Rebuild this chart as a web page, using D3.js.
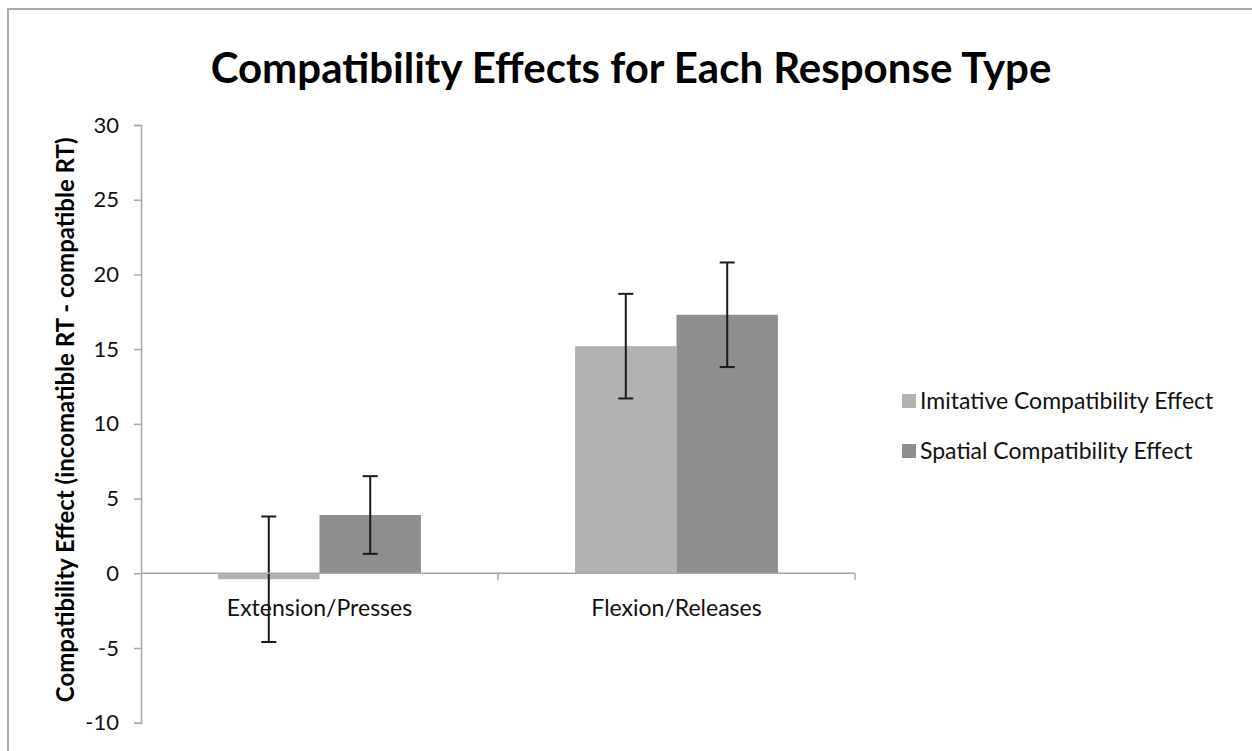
<!DOCTYPE html>
<html>
<head>
<meta charset="utf-8">
<script src="https://cdn.jsdelivr.net/npm/d3@7"></script>
<style>
  html, body { margin: 0; padding: 0; background: #fff; }
  svg { display: block; }
  text { font-family: Lato, "Open Sans", sans-serif; }
</style>
</head>
<body>
<svg id="chart" width="1252" height="751"></svg>
<script>
// Response types along the x axis
const categories = ["Extension/Presses", "Flexion/Releases"];
// Series names as shown in the legend
const seriesNames = ["Imitative Compatibility Effect", "Spatial Compatibility Effect"];
// Mean compatibility effect (ms) per response type
const imitativeValues = [-0.4, 15.2];
const spatialValues = [3.9, 17.3];
// Error bar half-widths (ms)
const imitativeErrors = [4.2, 3.5];
const spatialErrors = [2.6, 3.5];
// Y axis ticks
const yTicks = [-10, -5, 0, 5, 10, 15, 20, 25, 30];

const seriesColors = ["#b2b2b2", "#8e8e8e"];
const axisColor = "#a8a8a8";

const svg = d3.select("#chart");

// Outer chart frame
svg.append("rect")
  .attr("x", 8).attr("y", 9)
  .attr("width", 1300).attr("height", 800)
  .attr("fill", "none")
  .attr("stroke", "#aaaaaa")
  .attr("stroke-width", 2);

// Title
svg.append("text")
  .attr("x", 631).attr("y", 83)
  .attr("text-anchor", "middle")
  .attr("font-size", 42)
  .attr("font-weight", "bold")
  .attr("fill", "#000")
  .text("Compatibility Effects for Each Response Type");

const plot = { left: 141, right: 855, top: 125, bottom: 722.7 };

const y = d3.scaleLinear().domain([-10, 30]).range([plot.bottom, plot.top]);
const x0 = d3.scaleBand().domain(categories).range([plot.left, plot.right]).padding(0);
const x1 = d3.scaleBand().domain(seriesNames).range([0, x0.bandwidth()])
  .paddingInner(0).paddingOuter(0.76);

const rows = categories.map((c, i) => ({
  category: c,
  bars: [
    { series: seriesNames[0], value: imitativeValues[i], err: imitativeErrors[i], color: seriesColors[0] },
    { series: seriesNames[1], value: spatialValues[i], err: spatialErrors[i], color: seriesColors[1] }
  ]
}));

// Bars
const groups = svg.append("g").selectAll("g").data(rows).join("g")
  .attr("transform", d => `translate(${x0(d.category)},0)`);

groups.selectAll("rect").data(d => d.bars).join("rect")
  .attr("x", d => x1(d.series))
  .attr("width", x1.bandwidth())
  .attr("y", d => y(Math.max(0, d.value)))
  .attr("height", d => Math.abs(y(d.value) - y(0)))
  .attr("fill", d => d.color);

// Y axis
const yAxis = d3.axisLeft(y).tickValues(yTicks).tickFormat(d => String(d))
  .tickSize(7).tickPadding(15);
const gy = svg.append("g").attr("transform", `translate(${plot.left},0)`).call(yAxis);
gy.select(".domain").attr("stroke", axisColor).attr("stroke-width", 1.5);
gy.selectAll(".tick line").attr("stroke", axisColor).attr("stroke-width", 1.5);
gy.selectAll(".tick text")
  .attr("font-size", 22)
  .attr("font-family", "Lato, 'Open Sans', sans-serif")
  .attr("fill", "#111");

// X axis at zero, ticks at category boundaries
const xAxisY = y(0);
const gx = svg.append("g");
gx.append("line")
  .attr("x1", plot.left).attr("x2", plot.right)
  .attr("y1", xAxisY).attr("y2", xAxisY)
  .attr("stroke", axisColor).attr("stroke-width", 1.5);
gx.selectAll("line.tick").data(categories).join("line")
  .attr("class", "tick")
  .attr("x1", d => x0(d) + x0.bandwidth()).attr("x2", d => x0(d) + x0.bandwidth())
  .attr("y1", xAxisY).attr("y2", xAxisY + 7)
  .attr("stroke", axisColor).attr("stroke-width", 1.5);
gx.selectAll("text").data(categories).join("text")
  .attr("x", d => x0(d) + x0.bandwidth() / 2)
  .attr("y", xAxisY + 43)
  .attr("text-anchor", "middle")
  .attr("font-size", 23)
  .attr("fill", "#111")
  .text(d => d);

// Error bars
const capHalf = 7.5;
const eb = groups.selectAll("g.err").data(d => d.bars).join("g").attr("class", "err")
  .attr("stroke", "#1a1a1a").attr("stroke-width", 2);
eb.append("line")
  .attr("x1", d => x1(d.series) + x1.bandwidth() / 2)
  .attr("x2", d => x1(d.series) + x1.bandwidth() / 2)
  .attr("y1", d => y(d.value + d.err))
  .attr("y2", d => y(d.value - d.err));
eb.append("line")
  .attr("x1", d => x1(d.series) + x1.bandwidth() / 2 - capHalf)
  .attr("x2", d => x1(d.series) + x1.bandwidth() / 2 + capHalf)
  .attr("y1", d => y(d.value + d.err))
  .attr("y2", d => y(d.value + d.err));
eb.append("line")
  .attr("x1", d => x1(d.series) + x1.bandwidth() / 2 - capHalf)
  .attr("x2", d => x1(d.series) + x1.bandwidth() / 2 + capHalf)
  .attr("y1", d => y(d.value - d.err))
  .attr("y2", d => y(d.value - d.err));

// Y axis title
svg.append("text")
  .attr("transform", `translate(74,${(plot.top + plot.bottom) / 2 - 4}) rotate(-90)`)
  .attr("text-anchor", "middle")
  .attr("font-size", 24)
  .attr("font-weight", "bold")
  .attr("fill", "#000")
  .text("Compatibility Effect (incomatible RT - compatible RT)");

// Legend
const legend = svg.append("g").attr("transform", "translate(902,0)");
const legendItems = legend.selectAll("g").data(seriesNames).join("g")
  .attr("transform", (d, i) => `translate(0,${401 + i * 50})`);
legendItems.append("rect")
  .attr("x", 0).attr("y", -7).attr("width", 14).attr("height", 14)
  .attr("fill", (d, i) => seriesColors[i]);
legendItems.append("text")
  .attr("x", 18).attr("y", 8)
  .attr("font-size", 23)
  .attr("fill", "#111")
  .text(d => d);
</script>
</body>
</html>
